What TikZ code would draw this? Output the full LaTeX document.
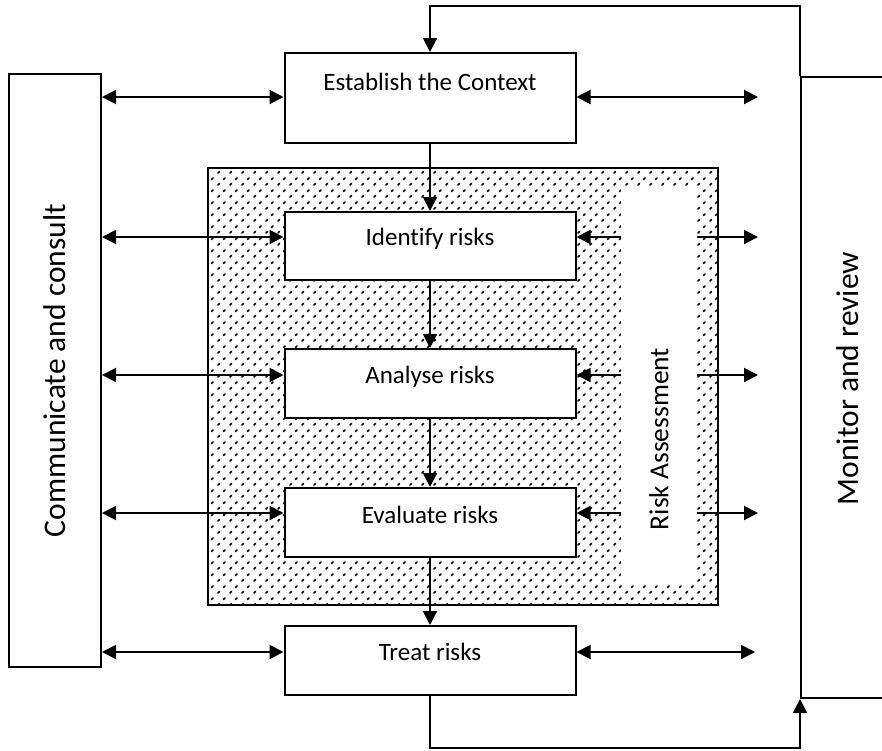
\documentclass[tikz,border=0pt]{standalone}
\usepackage{fontspec}
\setmainfont{Carlito}[Ligatures=NoCommon]
\usetikzlibrary{arrows.meta,patterns.meta}
\tikzdeclarepattern{
  name=specks,
  type=uncolored,
  bounding box={(0pt,0pt) and (12pt,12pt)},
  tile size={(12pt,12pt)},
  code={
    \draw[line width=1.7pt, line cap=round] (2pt,2pt) -- (3.8pt,3.8pt);
    \draw[line width=1.7pt, line cap=round] (8pt,8pt) -- (9.8pt,9.8pt);
  }
}
\tikzset{
  stepbox/.style={draw, line width=2pt, fill=white, minimum width=291pt, inner sep=0pt,
    text height=17pt, font=\fontsize{25}{30}\selectfont},
  sidebox/.style={draw, line width=2pt, fill=white, inner sep=0pt, rotate=90,
    font=\fontsize{31.5}{36}\selectfont},
  conn/.style={line width=2pt, -{Triangle[length=14pt,width=14pt]}},
  dbl/.style={line width=2pt, {Triangle[length=14pt,width=14pt]}-{Triangle[length=14pt,width=14pt]}}
}
\begin{document}
\begin{tikzpicture}[x=1pt,y=-1pt]
\useasboundingbox (0,0) rectangle (882,750);
\clip (0,0) rectangle (882,750);
\fill[white] (0,0) rectangle (882,750);

% shaded risk assessment area
\node[draw, line width=2pt, pattern=specks, pattern color=black, minimum width=510pt, minimum height=437pt, inner sep=0pt] (shade) at (463,386.5) {};
\node[fill=white, minimum width=76pt, minimum height=394pt, inner sep=0pt] (strip) at (659,385) {};
\node[rotate=90, inner sep=0pt, font=\fontsize{27.5}{32}\selectfont] (ratext) at (659,439) {Risk Assessment};

% side boxes
\node[sidebox, minimum width=593pt, minimum height=92pt] (comm) at (55,370.5) {Communicate and consult};
\node[sidebox, minimum width=621pt, minimum height=94pt] (mon) at (848,387.5) {\hspace*{18pt}Monitor and review};

% process boxes
\node[stepbox, minimum height=90pt, text depth=33pt] (ctx) at (430,98) {Establish the Context};
\node[stepbox, minimum height=68pt, text depth=19pt] (ident) at (430,246) {Identify risks};
\node[stepbox, minimum height=69pt, text depth=18pt] (anal) at (430,383.5) {Analyse risks};
\node[stepbox, minimum height=69pt, text depth=16pt] (eval) at (430,522.5) {Evaluate risks};
\node[stepbox, minimum height=69pt, text depth=18pt] (treat) at (430,660.5) {Treat risks};

% levels of horizontal connectors
\coordinate (y0) at (0,97);
\coordinate (y1) at (0,237);
\coordinate (y2) at (0,375);
\coordinate (y3) at (0,513);
\coordinate (y4) at (0,652);
\coordinate (e0) at (758,97);
\coordinate (e1) at (758,237);
\coordinate (e2) at (758,375);
\coordinate (e3) at (758,513);
\coordinate (e4) at (755,652);

% vertical flow
\draw[conn] (ctx) -- (ident);
\draw[conn] (ident) -- (anal);
\draw[conn] (anal) -- (eval);
\draw[conn] (eval) -- (treat);

% communicate and consult links
\draw[dbl] (comm.south |- y0) -- (ctx.west |- y0);
\draw[dbl] (comm.south |- y1) -- (ident.west |- y1);
\draw[dbl] (comm.south |- y2) -- (anal.west |- y2);
\draw[dbl] (comm.south |- y3) -- (eval.west |- y3);
\draw[dbl] (comm.south |- y4) -- (treat.west |- y4);

% monitor and review links
\draw[dbl] (ctx.east |- y0) -- (e0);
\draw[conn] (strip.west |- y1) -- (ident.east |- y1);
\draw[conn] (strip.east |- y1) -- (e1);
\draw[conn] (strip.west |- y2) -- (anal.east |- y2);
\draw[conn] (strip.east |- y2) -- (e2);
\draw[conn] (strip.west |- y3) -- (eval.east |- y3);
\draw[conn] (strip.east |- y3) -- (e3);
\draw[dbl] (treat.east |- y4) -- (e4);

% feedback loops
\draw[conn] (mon.north east) -- ++(0,-70) -| (ctx.north);
\draw[conn] (treat.south) -- ++(0,52) -| (mon.north west);
\end{tikzpicture}
\end{document}
